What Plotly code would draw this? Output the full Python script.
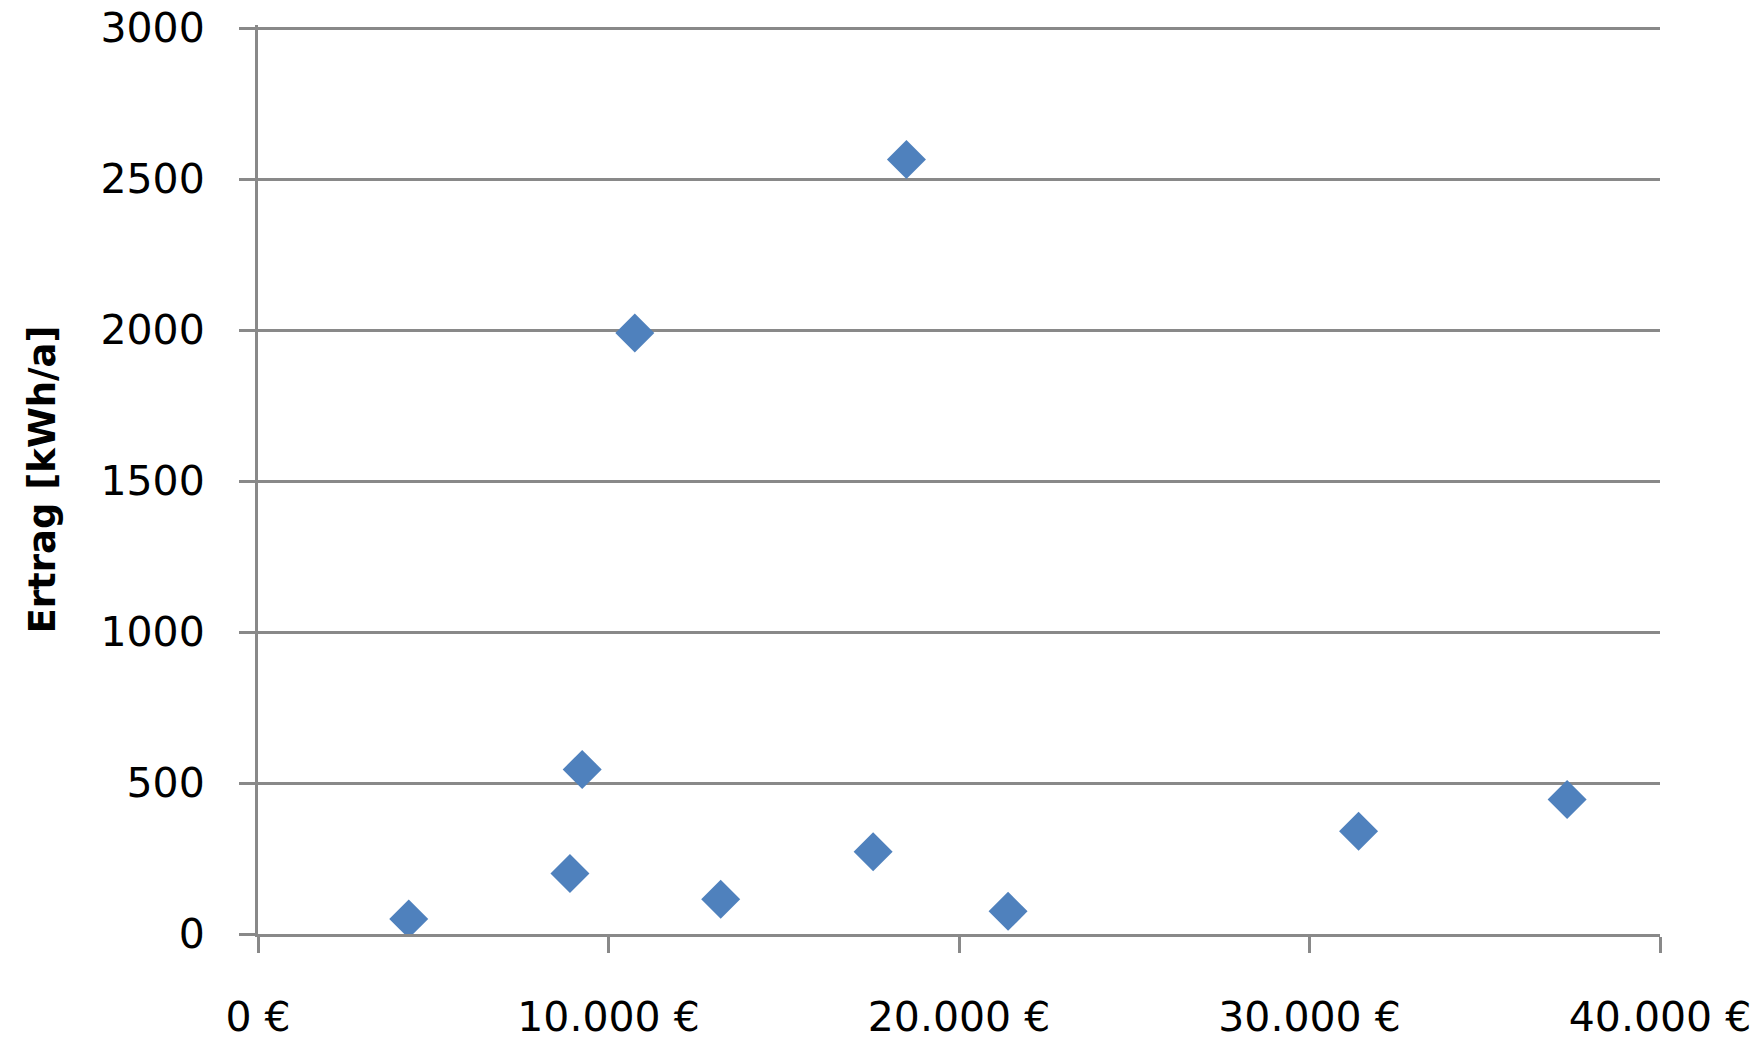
import plotly.graph_objects as go

# investment cost (EUR) vs. yield (kWh/a)
kosten = [4300, 8900, 9250, 10750, 13200, 17550, 18500, 21400, 31400, 37350]
ertrag = [50, 200, 545, 1990, 115, 272, 2565, 75, 340, 445]

x_ticks = [0, 10000, 20000, 30000, 40000]
x_labels = ["0 €", "10.000 €", "20.000 €", "30.000 €", "40.000 €"]
y_ticks = [0, 500, 1000, 1500, 2000, 2500, 3000]

grey = "#898989"
font_name = "DejaVu Sans"

fig = go.Figure()
fig.add_trace(go.Scatter(
    x=kosten,
    y=ertrag,
    mode="markers",
    marker=dict(symbol="diamond", size=30, color="#4F81BD", line=dict(width=0)),
    showlegend=False,
))

# page body has an 8px margin, so the figure is 8px smaller than the window
fig.update_layout(
    width=1756,
    height=1040,
    paper_bgcolor="white",
    plot_bgcolor="white",
    margin=dict(l=250, r=104, t=17, b=114),
    font=dict(family=font_name, size=41, color="black"),
    xaxis=dict(
        range=[0, 40000],
        tickvals=x_ticks,
        ticktext=x_labels,
        showgrid=False,
        zeroline=False,
        showline=True,
        linecolor=grey,
        linewidth=3,
        ticks="outside",
        ticklen=16,
        tickwidth=3,
        tickcolor=grey,
        ticklabelstandoff=29,
        ticklabeloverflow="allow",
        automargin=False,
    ),
    yaxis=dict(
        # a bit above 3000 so the top gridline is still drawn
        range=[0, 3010],
        tickvals=y_ticks,
        showgrid=True,
        gridcolor=grey,
        gridwidth=3,
        zeroline=False,
        showline=True,
        linecolor=grey,
        linewidth=3,
        ticks="outside",
        ticklen=16,
        tickwidth=3,
        tickcolor=grey,
        ticklabelstandoff=26,
        ticklabeloverflow="allow",
        automargin=False,
        title=dict(
            text="Ertrag [kWh/a]",
            font=dict(family=font_name, size=37, weight="bold"),
            standoff=34,
        ),
    ),
)

fig.write_html("out.html")
